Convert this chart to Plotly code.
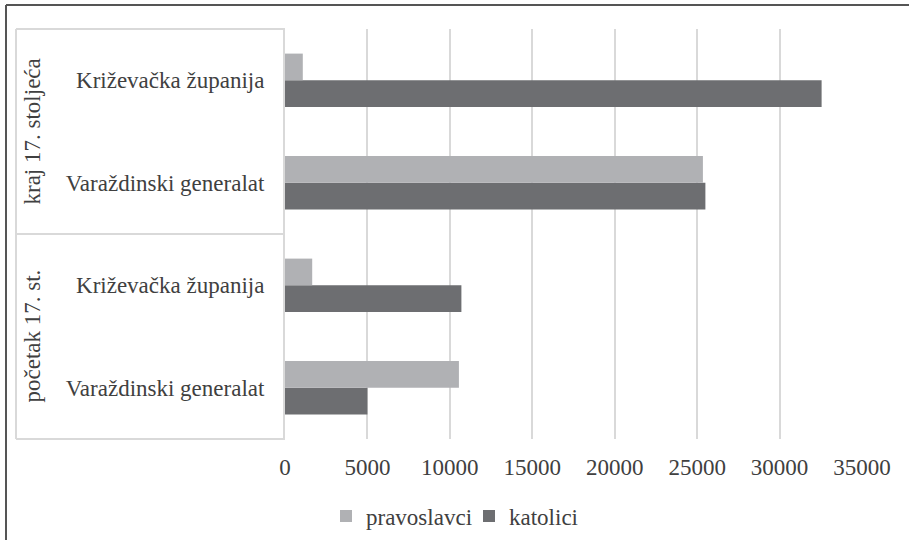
import plotly.graph_objects as go

# Data (bottom to top)
periods = ["početak 17. st.", "početak 17. st.", "kraj 17. stoljeća", "kraj 17. stoljeća"]
regions = ["Varaždinski generalat", "Križevačka županija", "Varaždinski generalat", "Križevačka županija"]
pravoslavci = [10550, 1650, 25350, 1080]
katolici = [5000, 10700, 25500, 32550]
x_ticks = [0, 5000, 10000, 15000, 20000, 25000, 30000, 35000]
group_labels = ["početak 17. st.", "kraj 17. stoljeća"]

cat_ids = [f"{p}|{r}" for p, r in zip(periods, regions)]

FONT = "'Liberation Serif', 'Times New Roman', Times, serif"
FS = 23
TXT = "#404040"
GRID = "#d9d9d9"

fig = go.Figure()
fig.add_trace(go.Bar(y=cat_ids, x=katolici, orientation="h", name="katolici",
                     marker=dict(color="#6d6e71", line=dict(width=0))))
fig.add_trace(go.Bar(y=cat_ids, x=pravoslavci, orientation="h", name="pravoslavci",
                     marker=dict(color="#b0b1b4", line=dict(width=0))))

W, H = 909, 540
L, R, T, B = 285, 862, 29, 439

def px(x):
    return (x - L) / (R - L)

def py(y):
    return (B - y) / (B - T)

fig.update_layout(
    width=W, height=H,
    margin=dict(l=L, r=W - R, t=T, b=H - B, autoexpand=False),
    paper_bgcolor="white", plot_bgcolor="white",
    font=dict(family=FONT, size=FS, color=TXT),
    barmode="group", bargap=0.48, bargroupgap=0,
    showlegend=True,
    legend=dict(orientation="h", traceorder="reversed",
                xref="container", yref="container",
                x=(366 - 40) / W, xanchor="left",
                y=1 - 516 / H, yanchor="middle",
                entrywidth=98, entrywidthmode="pixels",
                font=dict(family=FONT, size=FS, color=TXT),
                bgcolor="rgba(0,0,0,0)"),
    xaxis=dict(range=[0, 35000], tickvals=x_ticks, tickformat="d",
               showgrid=True, gridcolor=GRID, gridwidth=2,
               zeroline=False, showline=False, ticks="",
               ticklabelstandoff=12,
               tickfont=dict(family=FONT, size=FS, color=TXT)),
    yaxis=dict(type="category", categoryorder="array", categoryarray=cat_ids,
               tickvals=cat_ids, ticktext=regions,
               showline=True, linecolor=GRID, linewidth=2,
               showgrid=False, zeroline=False, ticks="",
               ticklabelstandoff=14,
               tickfont=dict(family=FONT, size=FS, color=TXT)),
)

# Category box lines (multi-level axis look)
box_left = px(16)
for yy in [0, 0.5, 1]:
    fig.add_shape(type="line", xref="paper", yref="paper",
                  x0=box_left, x1=0, y0=yy, y1=yy,
                  line=dict(color=GRID, width=2))
fig.add_shape(type="line", xref="paper", yref="paper",
              x0=box_left, x1=box_left, y0=0, y1=1,
              line=dict(color=GRID, width=2))

# Group labels (rotated)
for lbl, yc in zip(group_labels, [0.25, 0.75]):
    fig.add_annotation(text=lbl, xref="paper", yref="paper",
                       x=px(32), y=yc, textangle=-90, showarrow=False,
                       xanchor="center", yanchor="middle",
                       font=dict(family=FONT, size=FS, color=TXT))

# Outer frame (top and left edges)
fig.add_shape(type="line", xref="paper", yref="paper",
              x0=px(6), x1=px(912), y0=py(5), y1=py(5),
              line=dict(color="#555555", width=2))
fig.add_shape(type="line", xref="paper", yref="paper",
              x0=px(6), x1=px(6), y0=py(5), y1=py(545),
              line=dict(color="#555555", width=2))

fig.write_html("out.html",
               config={"displayModeBar": False},
               post_script="document.body.style.margin='0';document.body.style.overflow='hidden';")
